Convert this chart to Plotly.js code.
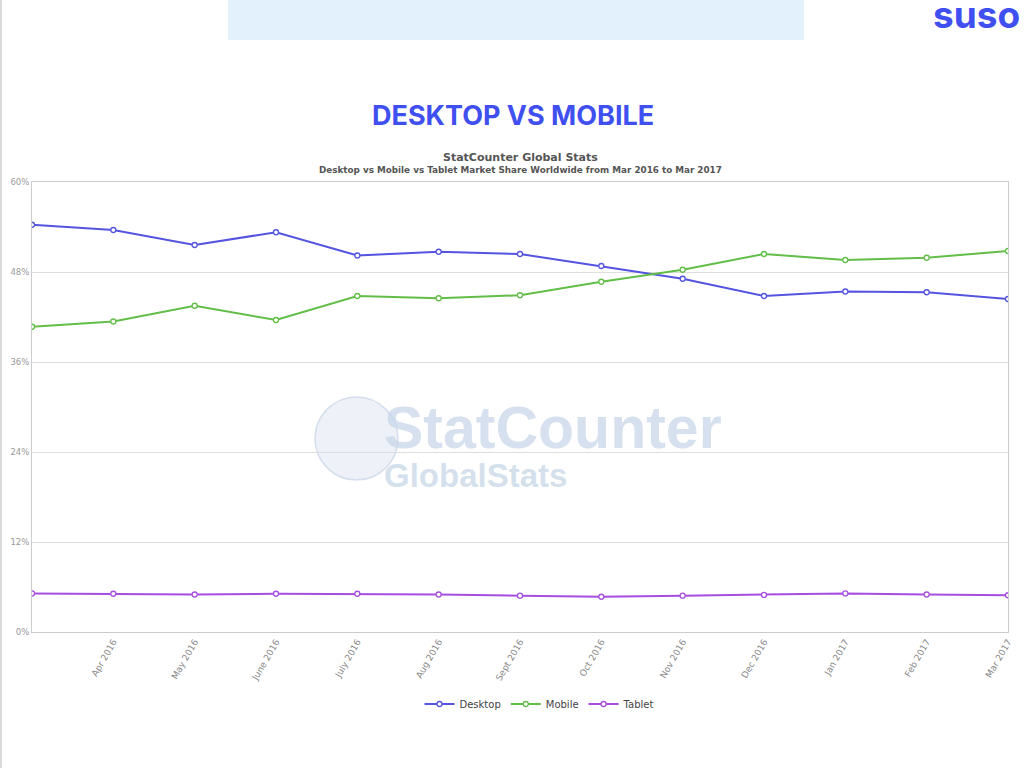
<!DOCTYPE html>
<html>
<head>
<meta charset="utf-8">
<script src="https://cdn.plot.ly/plotly-3.0.1.min.js"></script>
<style>
html,body{margin:0;padding:0;background:#fff;}
#chart{width:1024px;height:768px;}
</style>
</head>
<body>
<div id="chart"></div>
<script>
// ---- data ----
var months = ["Mar 2016","Apr 2016","May 2016","June 2016","July 2016","Aug 2016","Sept 2016","Oct 2016","Nov 2016","Dec 2016","Jan 2017","Feb 2017","Mar 2017"];
var tickMonths = months.slice(1);
var desktop = [54.3, 53.6, 51.6, 53.3, 50.2, 50.7, 50.4, 48.8, 47.1, 44.8, 45.4, 45.3, 44.4];
var mobile  = [40.7, 41.4, 43.5, 41.6, 44.8, 44.5, 44.9, 46.7, 48.3, 50.4, 49.6, 49.9, 50.8];
var tablet  = [5.15, 5.1, 5.0, 5.1, 5.1, 5.0, 4.85, 4.7, 4.85, 4.95, 5.15, 5.0, 4.9];
var yTicks = [0, 12, 24, 36, 48, 60];
var seriesNames = ["Desktop", "Mobile", "Tablet"];
var seriesColors = ["#5454e0", "#62be48", "#a64ee0"];

var values = [desktop, mobile, tablet];
var traces = values.map(function(v, i){
  return {
    type: "scatter", mode: "lines+markers",
    x: months, y: v, name: seriesNames[i],
    line: {color: seriesColors[i], width: 2},
    marker: {symbol: "circle", size: 5, color: "#ffffff", line: {color: seriesColors[i], width: 1.3}},
    hoverinfo: "skip"
  };
});

var F = "DejaVu Sans, sans-serif";
var WM = "rgba(200,214,232,0.75)";
var layout = {
  width: 1024, height: 768,
  margin: {l: 32, r: 16, t: 182, b: 136},
  paper_bgcolor: "#ffffff", plot_bgcolor: "#ffffff",
  showlegend: true,
  legend: {orientation: "h", x: 0.52, xanchor: "center", y: -0.16, yanchor: "middle",
           font: {family: F, size: 10, color: "#444"}, itemwidth: 30},
  xaxis: {
    type: "category", range: [0, months.length - 1],
    tickvals: tickMonths, ticktext: tickMonths, tickangle: -60,
    tickfont: {family: F, size: 9, color: "#888"},
    showgrid: false, zeroline: false,
    showline: true, linecolor: "#cccccc", linewidth: 1, mirror: true, ticks: ""
  },
  yaxis: {
    range: [0, 60], tickvals: yTicks, ticktext: yTicks.map(function(t){return t + "%";}),
    tickfont: {family: F, size: 8.5, color: "#999"},
    showgrid: true, gridcolor: "#dddddd", gridwidth: 1, zeroline: false,
    showline: true, linecolor: "#cccccc", linewidth: 1, mirror: true, ticks: ""
  },
  shapes: [
    {type: "rect", xref: "paper", yref: "paper", x0: 0.2008, x1: 0.791, y0: 1.3156, y1: 1.41,
     fillcolor: "#e3f1fd", line: {width: 0}, layer: "below"},
    {type: "line", xref: "paper", yref: "paper", x0: -0.0318, x1: -0.0318, y0: -0.31, y1: 1.41,
     line: {color: "#cfcfcf", width: 1.5}},
    {type: "circle", xref: "paper", yref: "paper", x0: (315-32)/976, x1: (398-32)/976, y0: (632-480)/450, y1: (632-397)/450,
     fillcolor: "rgba(205,218,235,0.35)", line: {color: "rgba(190,205,228,0.6)", width: 1.5}, layer: "below"}
  ],
  annotations: [
    {text: "<b>DESKTOP VS MOBILE</b>", xref: "paper", yref: "paper", x: (513-32)/976, y: (632-115)/450,
     xanchor: "center", yanchor: "middle", showarrow: false,
     font: {family: "Inter, sans-serif", size: 27, color: "#3f4ff0"}},
    {text: "<b>suso</b>", xref: "paper", yref: "paper", x: (976-32)/976, y: (632-15)/450,
     xanchor: "center", yanchor: "middle", showarrow: false,
     font: {family: "Inter, sans-serif", size: 37, color: "#3f4ff0"}},
    {text: "<b>StatCounter Global Stats</b>", xref: "paper", yref: "paper", x: 0.5, y: (632-157)/450,
     xanchor: "center", yanchor: "middle", showarrow: false,
     font: {family: F, size: 11, color: "#555"}},
    {text: "<b>Desktop vs Mobile vs Tablet Market Share Worldwide from Mar 2016 to Mar 2017</b>", xref: "paper", yref: "paper", x: 0.5, y: (632-170)/450,
     xanchor: "center", yanchor: "middle", showarrow: false,
     font: {family: F, size: 8.8, color: "#555"}},
    {text: "<b><span style='font-size:59px'>StatCounter</span><br><span style='font-size:33px'>GlobalStats</span></b>",
     xref: "paper", yref: "paper", x: (382-32)/976, y: (632-444)/450,
     xanchor: "left", yanchor: "middle", align: "left", showarrow: false,
     font: {family: "Liberation Sans, sans-serif", size: 30, color: WM}}
  ]
};

Plotly.newPlot("chart", traces, layout, {staticPlot: true, displayModeBar: false});
</script>
</body>
</html>
